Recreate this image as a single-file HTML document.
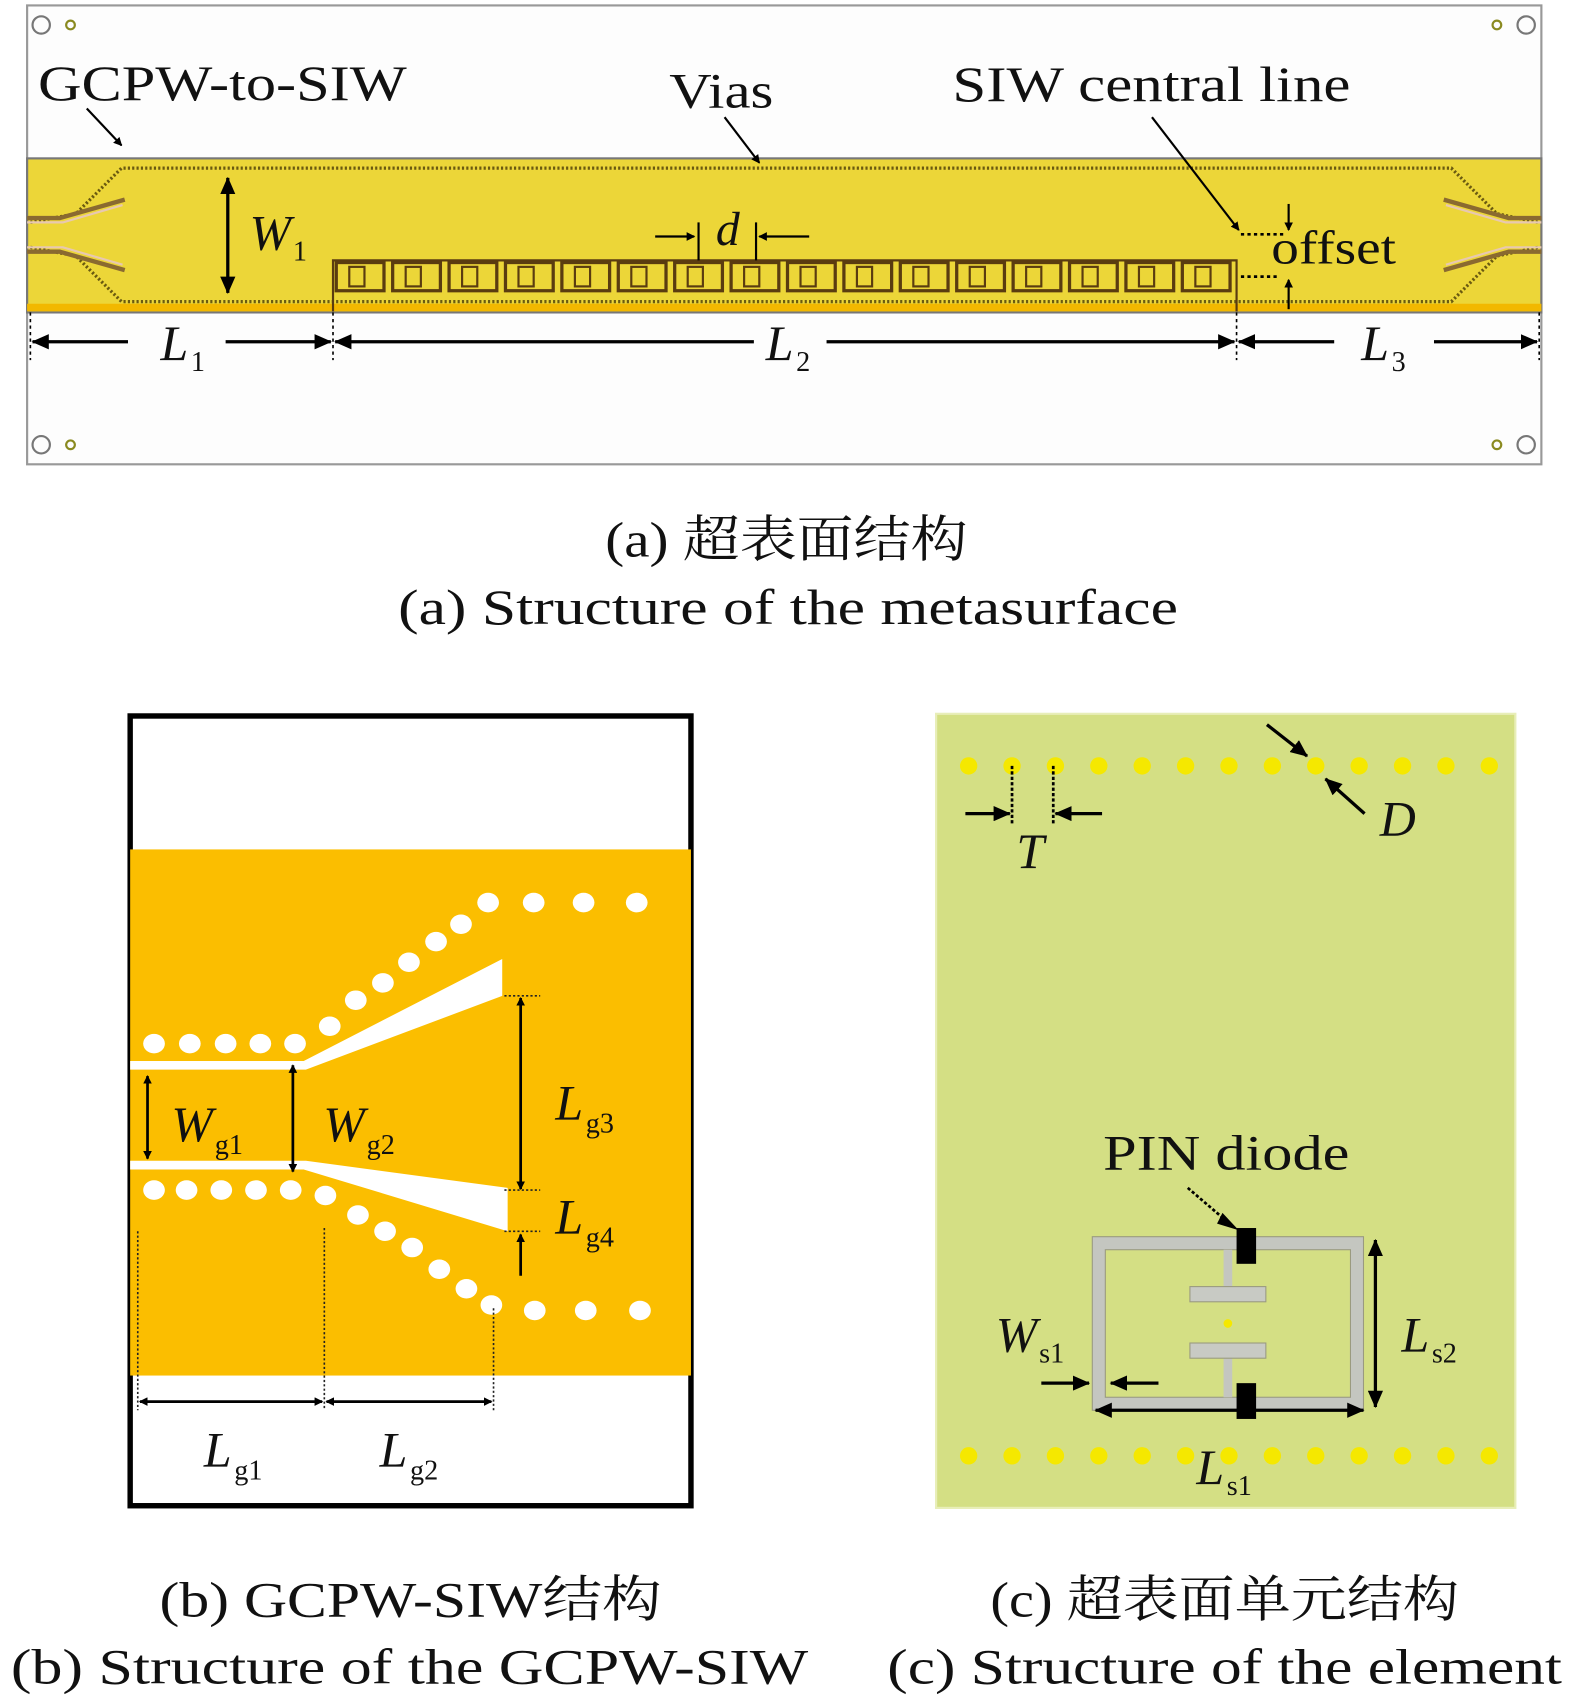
<!DOCTYPE html>
<html><head><meta charset="utf-8"><style>
html,body{margin:0;padding:0;background:#fff;}
svg{display:block;}
text{font-family:"Liberation Serif","Noto Serif CJK SC",serif;fill:#111;}
.m{font-style:italic;}
</style></head><body>
<svg width="1575" height="1701" viewBox="0 0 1452 1568" preserveAspectRatio="none" xmlns="http://www.w3.org/2000/svg">
<defs>
<marker id="ah" markerWidth="8" markerHeight="8" refX="7" refY="4" orient="auto-start-reverse" markerUnits="userSpaceOnUse"><path d="M0,0 L8,4 L0,8 Z" fill="#000"/></marker>
<marker id="ab" markerWidth="16" markerHeight="14" refX="15" refY="7" orient="auto-start-reverse" markerUnits="userSpaceOnUse"><path d="M0,0 L16,7 L0,14 Z" fill="#000"/></marker>
</defs>
<!-- Panel a -->
<rect x="25" y="5" width="1396" height="423" fill="#fdfdfd" stroke="#999" stroke-width="2"/>
<rect x="25" y="146" width="1396" height="142" fill="#ecd638" stroke="#777" stroke-width="2"/>
<rect x="25" y="280" width="1396" height="7" fill="#f2b800"/>
<g fill="none" stroke="#6a5a10" stroke-width="3" stroke-dasharray="2 2">
<path d="M28,205 L70,197 L112,155 L1338,155 L1380,197 L1418,205"/>
<path d="M28,228 L70,236 L112,278 L1338,278 L1380,236 L1418,228"/>
</g>
<g fill="none" stroke="#8a6a30" stroke-width="4">
<path d="M25,201 L55,201 L115,184"/><path d="M25,232 L55,232 L115,249"/>
<path d="M1421,201 L1391,201 L1331,184"/><path d="M1421,232 L1391,232 L1331,249"/>
</g>
<g fill="none" stroke="#e8c8b0" stroke-width="2">
<path d="M25,205 L58,205 L113,189"/><path d="M25,228 L58,228 L113,244"/>
<path d="M1421,205 L1388,205 L1333,189"/><path d="M1421,228 L1388,228 L1333,244"/>
</g>
<g fill="none" stroke="#5a3c10" stroke-width="2">
<path d="M307,287 L307,240 L1140,240 L1140,287"/>
</g>
<g fill="none" stroke="#5a3c10" stroke-width="3">
<rect x="310" y="242" width="44" height="26"/><rect x="362" y="242" width="44" height="26"/><rect x="414" y="242" width="44" height="26"/><rect x="466" y="242" width="44" height="26"/><rect x="518" y="242" width="44" height="26"/><rect x="570" y="242" width="44" height="26"/><rect x="622" y="242" width="44" height="26"/><rect x="674" y="242" width="44" height="26"/><rect x="726" y="242" width="44" height="26"/><rect x="778" y="242" width="44" height="26"/><rect x="830" y="242" width="44" height="26"/><rect x="882" y="242" width="44" height="26"/><rect x="934" y="242" width="44" height="26"/><rect x="986" y="242" width="44" height="26"/><rect x="1038" y="242" width="44" height="26"/><rect x="1090" y="242" width="44" height="26"/>
</g>
<g fill="none" stroke="#5a3c10" stroke-width="2">
<rect x="322" y="246" width="14" height="18"/><rect x="374" y="246" width="14" height="18"/><rect x="426" y="246" width="14" height="18"/><rect x="478" y="246" width="14" height="18"/><rect x="530" y="246" width="14" height="18"/><rect x="582" y="246" width="14" height="18"/><rect x="634" y="246" width="14" height="18"/><rect x="686" y="246" width="14" height="18"/><rect x="738" y="246" width="14" height="18"/><rect x="790" y="246" width="14" height="18"/><rect x="842" y="246" width="14" height="18"/><rect x="894" y="246" width="14" height="18"/><rect x="946" y="246" width="14" height="18"/><rect x="998" y="246" width="14" height="18"/><rect x="1050" y="246" width="14" height="18"/><rect x="1102" y="246" width="14" height="18"/>
</g>
<g fill="none" stroke="#777" stroke-width="2"><circle cx="38" cy="23" r="8"/><circle cx="1407" cy="23" r="8"/><circle cx="38" cy="410" r="8"/><circle cx="1407" cy="410" r="8"/></g>
<g fill="none" stroke="#8a8a20" stroke-width="2"><circle cx="65" cy="23" r="4"/><circle cx="1380" cy="23" r="4"/><circle cx="65" cy="410" r="4"/><circle cx="1380" cy="410" r="4"/></g>
<text x="35" y="92" font-size="46" textLength="340" lengthAdjust="spacingAndGlyphs">GCPW-to-SIW</text>
<text x="617" y="99" font-size="46" textLength="96" lengthAdjust="spacingAndGlyphs">Vias</text>
<text x="878" y="93" font-size="46" textLength="367" lengthAdjust="spacingAndGlyphs">SIW central line</text>
<g stroke="#000" stroke-width="2" fill="none">
<line x1="80" y1="100" x2="112" y2="134" marker-end="url(#ah)"/>
<line x1="668" y1="108" x2="700" y2="150" marker-end="url(#ah)"/>
<line x1="1062" y1="108" x2="1142" y2="212" marker-end="url(#ah)"/>
<line x1="210" y1="164" x2="210" y2="270" stroke-width="3" marker-end="url(#ab)" marker-start="url(#ab)"/>
<line x1="604" y1="218" x2="640" y2="218" marker-end="url(#ah)"/>
<line x1="746" y1="218" x2="700" y2="218" marker-end="url(#ah)"/>
<line x1="644" y1="205" x2="644" y2="240"/><line x1="697" y1="205" x2="697" y2="240"/>
<line x1="1188" y1="188" x2="1188" y2="212" marker-end="url(#ah)"/>
<line x1="1188" y1="285" x2="1188" y2="258" marker-end="url(#ah)"/>
</g>
<g stroke="#000" stroke-width="2.5" stroke-dasharray="3 3"><line x1="1144" y1="216" x2="1185" y2="216"/><line x1="1144" y1="255" x2="1180" y2="255"/></g>
<g stroke="#000" stroke-width="1.5" stroke-dasharray="3 3"><line x1="28" y1="288" x2="28" y2="332"/><line x1="307" y1="288" x2="307" y2="332"/><line x1="1140" y1="288" x2="1140" y2="332"/><line x1="1419" y1="288" x2="1419" y2="332"/></g>
<g stroke="#000" stroke-width="3" fill="none">
<line x1="118" y1="315" x2="30" y2="315" marker-end="url(#ab)"/>
<line x1="208" y1="315" x2="305" y2="315" marker-end="url(#ab)"/>
<line x1="695" y1="315" x2="309" y2="315" marker-end="url(#ab)"/>
<line x1="762" y1="315" x2="1138" y2="315" marker-end="url(#ab)"/>
<line x1="1230" y1="315" x2="1142" y2="315" marker-end="url(#ab)"/>
<line x1="1322" y1="315" x2="1417" y2="315" marker-end="url(#ab)"/>
</g>
<text x="230" y="230" font-size="46" class="m">W</text><text x="270" y="240" font-size="26">1</text>
<text x="660" y="226" font-size="44" class="m">d</text>
<text x="1172" y="243" font-size="44" textLength="115" lengthAdjust="spacingAndGlyphs">offset</text>
<text x="148" y="332" font-size="46" class="m">L</text><text x="176" y="342" font-size="26">1</text>
<text x="706" y="332" font-size="46" class="m">L</text><text x="734" y="342" font-size="26">2</text>
<text x="1255" y="332" font-size="46" class="m">L</text><text x="1283" y="342" font-size="26">3</text>
<text x="558" y="513" font-size="46" textLength="334" lengthAdjust="spacingAndGlyphs">(a) 超表面结构</text>
<text x="367" y="575" font-size="46" textLength="719" lengthAdjust="spacingAndGlyphs">(a) Structure of the metasurface</text>
<!-- Panel b -->
<rect x="120" y="660" width="517" height="728" fill="#fff" stroke="#000" stroke-width="5"/>
<rect x="120" y="783" width="517" height="485" fill="#fbbe00"/>
<g fill="#fff">
<polygon points="120,978 280,978 463,884 463,918 282,986 120,986"/>
<polygon points="120,1070 282,1070 468,1095 468,1135 280,1078 120,1078"/>
<ellipse cx="450" cy="832" rx="10" ry="9"/><ellipse cx="492" cy="832" rx="10" ry="9"/><ellipse cx="538" cy="832" rx="10" ry="9"/><ellipse cx="587" cy="832" rx="10" ry="9"/>
<ellipse cx="425" cy="852" rx="10" ry="9"/><ellipse cx="402" cy="868" rx="10" ry="9"/><ellipse cx="377" cy="887" rx="10" ry="9"/><ellipse cx="353" cy="906" rx="10" ry="9"/><ellipse cx="328" cy="922" rx="10" ry="9"/><ellipse cx="304" cy="946" rx="10" ry="9"/>
<ellipse cx="142" cy="962" rx="10" ry="9"/><ellipse cx="175" cy="962" rx="10" ry="9"/><ellipse cx="208" cy="962" rx="10" ry="9"/><ellipse cx="240" cy="962" rx="10" ry="9"/><ellipse cx="272" cy="962" rx="10" ry="9"/>
<ellipse cx="142" cy="1097" rx="10" ry="9"/><ellipse cx="172" cy="1097" rx="10" ry="9"/><ellipse cx="204" cy="1097" rx="10" ry="9"/><ellipse cx="236" cy="1097" rx="10" ry="9"/><ellipse cx="268" cy="1097" rx="10" ry="9"/>
<ellipse cx="300" cy="1102" rx="10" ry="9"/><ellipse cx="330" cy="1120" rx="10" ry="9"/><ellipse cx="355" cy="1135" rx="10" ry="9"/><ellipse cx="380" cy="1150" rx="10" ry="9"/><ellipse cx="405" cy="1170" rx="10" ry="9"/><ellipse cx="430" cy="1188" rx="10" ry="9"/><ellipse cx="453" cy="1203" rx="10" ry="9"/>
<ellipse cx="493" cy="1208" rx="10" ry="9"/><ellipse cx="540" cy="1208" rx="10" ry="9"/><ellipse cx="590" cy="1208" rx="10" ry="9"/>
</g>
<g stroke="#000" stroke-width="2.5" fill="none">
<line x1="136" y1="992" x2="136" y2="1068" marker-end="url(#ah)" marker-start="url(#ah)"/>
<line x1="270" y1="982" x2="270" y2="1080" marker-end="url(#ah)" marker-start="url(#ah)"/>
<line x1="480" y1="920" x2="480" y2="1096" marker-end="url(#ah)" marker-start="url(#ah)"/>
<line x1="480" y1="1176" x2="480" y2="1138" marker-end="url(#ah)"/>
<line x1="129" y1="1292" x2="297" y2="1292" marker-end="url(#ah)" marker-start="url(#ah)"/>
<line x1="301" y1="1292" x2="453" y2="1292" marker-end="url(#ah)" marker-start="url(#ah)"/>
</g>
<g stroke="#222" stroke-width="1.5" stroke-dasharray="2 2">
<line x1="465" y1="918" x2="498" y2="918"/><line x1="465" y1="1097" x2="498" y2="1097"/><line x1="465" y1="1135" x2="498" y2="1135"/>
<line x1="127" y1="1135" x2="127" y2="1300"/><line x1="299" y1="1132" x2="299" y2="1300"/><line x1="455" y1="1206" x2="455" y2="1300"/>
</g>
<text x="158" y="1052" font-size="46" class="m">W</text><text x="198" y="1064" font-size="26">g1</text>
<text x="298" y="1052" font-size="46" class="m">W</text><text x="338" y="1064" font-size="26">g2</text>
<text x="512" y="1032" font-size="46" class="m">L</text><text x="540" y="1044" font-size="26">g3</text>
<text x="512" y="1137" font-size="46" class="m">L</text><text x="540" y="1149" font-size="26">g4</text>
<text x="188" y="1352" font-size="46" class="m">L</text><text x="216" y="1364" font-size="26">g1</text>
<text x="350" y="1352" font-size="46" class="m">L</text><text x="378" y="1364" font-size="26">g2</text>
<text x="147" y="1490" font-size="46" textLength="463" lengthAdjust="spacingAndGlyphs">(b) GCPW-SIW结构</text>
<text x="10" y="1552" font-size="46" textLength="735" lengthAdjust="spacingAndGlyphs">(b) Structure of the GCPW-SIW</text>
<!-- Panel c -->
<rect x="863" y="658" width="534" height="732" fill="#d4df84" stroke="#e8eeb8" stroke-width="2"/>
<g fill="#f5e800">
<circle cx="893" cy="706" r="8"/><circle cx="933" cy="706" r="8"/><circle cx="973" cy="706" r="8"/><circle cx="1013" cy="706" r="8"/><circle cx="1053" cy="706" r="8"/><circle cx="1093" cy="706" r="8"/><circle cx="1133" cy="706" r="8"/><circle cx="1173" cy="706" r="8"/><circle cx="1213" cy="706" r="8"/><circle cx="1253" cy="706" r="8"/><circle cx="1293" cy="706" r="8"/><circle cx="1333" cy="706" r="8"/><circle cx="1373" cy="706" r="8"/>
<circle cx="893" cy="1342" r="8"/><circle cx="933" cy="1342" r="8"/><circle cx="973" cy="1342" r="8"/><circle cx="1013" cy="1342" r="8"/><circle cx="1053" cy="1342" r="8"/><circle cx="1093" cy="1342" r="8"/><circle cx="1133" cy="1342" r="8"/><circle cx="1173" cy="1342" r="8"/><circle cx="1213" cy="1342" r="8"/><circle cx="1253" cy="1342" r="8"/><circle cx="1293" cy="1342" r="8"/><circle cx="1333" cy="1342" r="8"/><circle cx="1373" cy="1342" r="8"/>
</g>
<g stroke="#000" stroke-width="2.5" stroke-dasharray="3 2"><line x1="933" y1="706" x2="933" y2="760"/><line x1="971" y1="706" x2="971" y2="760"/><line x1="1095" y1="1095" x2="1130" y2="1125"/></g>
<path d="M1127,1118 L1142,1134 L1122,1128 Z" fill="#000"/>
<g stroke="#000" stroke-width="3" fill="none">
<line x1="890" y1="750" x2="931" y2="750" marker-end="url(#ab)"/>
<line x1="1016" y1="750" x2="973" y2="750" marker-end="url(#ab)"/>
<line x1="1168" y1="668" x2="1205" y2="697" marker-end="url(#ab)"/>
<line x1="1258" y1="750" x2="1222" y2="718" marker-end="url(#ab)"/>
</g>
<text x="937" y="800" font-size="46" class="m">T</text>
<text x="1272" y="770" font-size="46" class="m">D</text>
<text x="1017" y="1078" font-size="46" textLength="227" lengthAdjust="spacingAndGlyphs">PIN diode</text>
<rect x="1013" y="1146" width="238" height="148" fill="none" stroke="#c4c6c0" stroke-width="12"/>
<rect x="1007" y="1140" width="250" height="160" fill="none" stroke="#9a9a80" stroke-width="1"/>
<rect x="1019" y="1152" width="226" height="136" fill="none" stroke="#9a9a80" stroke-width="1"/>
<line x1="1132" y1="1152" x2="1132" y2="1186" stroke="#c4c6c0" stroke-width="8"/>
<line x1="1132" y1="1252" x2="1132" y2="1288" stroke="#c4c6c0" stroke-width="8"/>
<rect x="1097" y="1186" width="70" height="14" fill="#c8cac4" stroke="#9a9a80"/>
<rect x="1097" y="1238" width="70" height="14" fill="#c8cac4" stroke="#9a9a80"/>
<circle cx="1132" cy="1220" r="4" fill="#f5e800"/>
<rect x="1140" y="1132" width="18" height="33" fill="#000"/>
<rect x="1140" y="1275" width="18" height="33" fill="#000"/>
<g stroke="#000" stroke-width="3" fill="none">
<line x1="1268" y1="1143" x2="1268" y2="1297" marker-end="url(#ab)" marker-start="url(#ab)"/>
<line x1="960" y1="1275" x2="1004" y2="1275" marker-end="url(#ab)"/>
<line x1="1068" y1="1275" x2="1024" y2="1275" marker-end="url(#ab)"/>
<line x1="1010" y1="1300" x2="1257" y2="1300" marker-end="url(#ab)" marker-start="url(#ab)"/>
</g>
<text x="918" y="1246" font-size="46" class="m">W</text><text x="958" y="1256" font-size="26">s1</text>
<text x="1292" y="1246" font-size="46" class="m">L</text><text x="1320" y="1256" font-size="26">s2</text>
<text x="1103" y="1368" font-size="46" class="m">L</text><text x="1131" y="1378" font-size="26">s1</text>
<text x="913" y="1490" font-size="46" textLength="432" lengthAdjust="spacingAndGlyphs">(c) 超表面单元结构</text>
<text x="818" y="1552" font-size="46" textLength="622" lengthAdjust="spacingAndGlyphs">(c) Structure of the element</text>
</svg>
</body></html>
